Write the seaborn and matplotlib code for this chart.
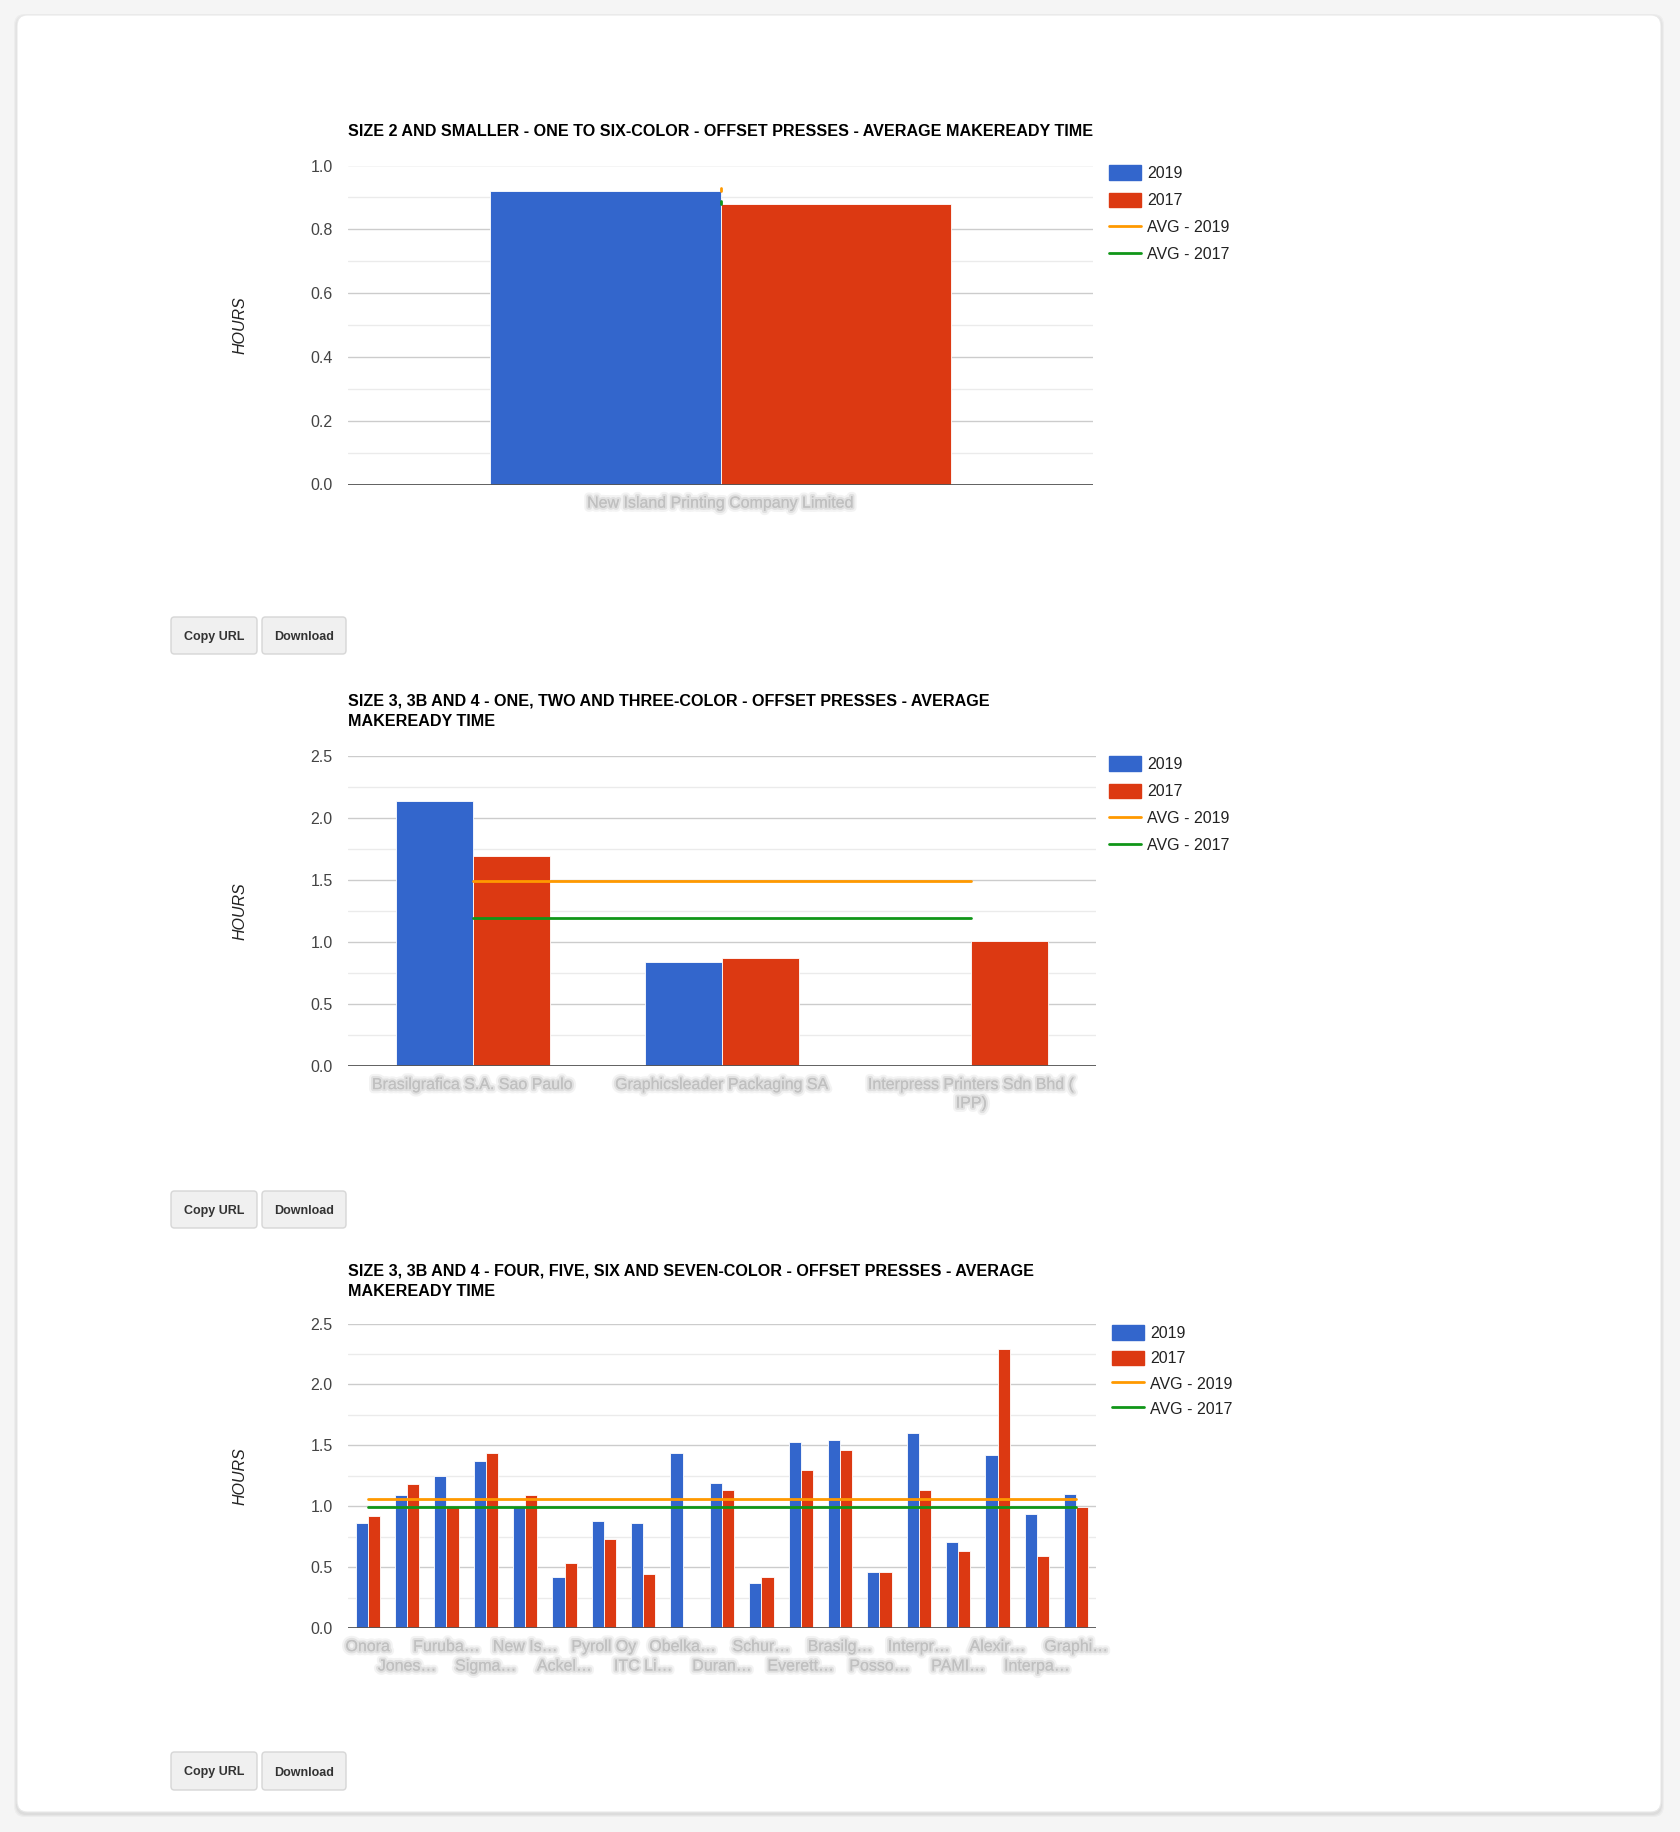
import numpy as np
import pandas as pd
import matplotlib
matplotlib.use("Agg")
import matplotlib.pyplot as plt
import matplotlib.patheffects as pe
from matplotlib.patches import FancyBboxPatch, Patch
from matplotlib.lines import Line2D
from matplotlib.ticker import MultipleLocator, FormatStrFormatter
import seaborn as sns

sns.set_theme(style="white")
plt.rcParams["font.family"] = ["Liberation Sans", "DejaVu Sans"]

# ---- data ----
years = ["2019", "2017"]

c1_names = ["New Island Printing Company Limited"]
c1_2019 = [0.92]
c1_2017 = [0.88]
c1_avg = {"2019": 0.92, "2017": 0.88}

c2_names = ["Brasilgrafica S.A. Sao Paulo", "Graphicsleader Packaging SA",
            "Interpress Printers Sdn Bhd (\nIPP)"]
c2_2019 = [2.14, 0.84, np.nan]
c2_2017 = [1.69, 0.87, 1.01]
c2_avg = {"2019": 1.49, "2017": 1.19}

c3_names = ["Onora", "Jones…", "Furuba…", "Sigma…", "New Is…", "Ackel…",
            "Pyroll Oy", "ITC Li…", "Obelka…", "Duran…", "Schur…", "Everett…",
            "Brasilg…", "Posso…", "Interpr…", "PAMI…", "Alexir…", "Interpa…",
            "Graphi…"]
c3_2019 = [0.86, 1.09, 1.25, 1.37, 1.00, 0.42, 0.88, 0.86, 1.44, 1.19, 0.37,
           1.53, 1.54, 0.46, 1.60, 0.71, 1.42, 0.94, 1.10]
c3_2017 = [0.92, 1.18, 0.99, 1.44, 1.09, 0.53, 0.73, 0.44, np.nan, 1.13, 0.42,
           1.30, 1.46, 0.46, 1.13, 0.63, 2.29, 0.59, 0.99]
c3_avg = {"2019": 1.06, "2017": 0.99}

titles = [
    "SIZE 2 AND SMALLER - ONE TO SIX-COLOR - OFFSET PRESSES - AVERAGE MAKEREADY TIME",
    "SIZE 3, 3B AND 4 - ONE, TWO AND THREE-COLOR - OFFSET PRESSES - AVERAGE\nMAKEREADY TIME",
    "SIZE 3, 3B AND 4 - FOUR, FIVE, SIX AND SEVEN-COLOR - OFFSET PRESSES - AVERAGE\nMAKEREADY TIME",
]

BLUE, RED, ORANGE, GREEN = "#3366CC", "#DC3912", "#FF9900", "#109618"
LABEL_GREY = "#c0c0c0"

W, H = 1680, 1832
fig = plt.figure(figsize=(W / 100, H / 100), dpi=100, facecolor="#f5f5f5")


def rect(l, t, r, b):
    return [l / W, 1 - b / H, (r - l) / W, (b - t) / H]


# card with soft shadow
for i, a in enumerate([0.03, 0.03, 0.04]):
    d = 3 - i
    fig.patches.append(FancyBboxPatch(
        ((17 - d) / W, 1 - (1812 + d + 2) / H), (1644 + 2 * d) / W, (1797 + 2 * d) / H,
        boxstyle="round,pad=0,rounding_size=0.006", transform=fig.transFigure,
        facecolor="black", edgecolor="none", alpha=a, zorder=-3))
fig.patches.append(FancyBboxPatch(
    (17 / W, 1 - 1812 / H), 1644 / W, 1797 / H,
    boxstyle="round,pad=0,rounding_size=0.006", transform=fig.transFigure,
    facecolor="white", edgecolor="#e9e9e9", lw=0.8, zorder=-2))


def button(x0, x1, y0, y1, label):
    fig.patches.append(FancyBboxPatch(
        (x0 / W, 1 - y1 / H), (x1 - x0) / W, (y1 - y0) / H,
        boxstyle="round,pad=0,rounding_size=0.002", transform=fig.transFigure,
        facecolor="#f0f0f0", edgecolor="#d6d6d6", lw=1, zorder=-1))
    fig.text((x0 + x1) / 2 / W, 1 - (y0 + y1) / 2 / H, label, ha="center",
             va="center_baseline", fontsize=9, fontweight="bold", color="#333333")


def blur(t):
    # the company names are blurred in the reference
    t.set_path_effects([pe.withStroke(linewidth=6, foreground="#f3f3f3"),
                        pe.withStroke(linewidth=3, foreground="#e0e0e0"),
                        pe.Normal()])


def draw_chart(box, names, v19, v17, avg, ymax, major, minor, title, title_y,
               legend_x, legend_y, stagger=False, spacing=0.72):
    l, t, r, b = box
    ax = fig.add_axes(rect(l, t, r, b))
    ax.set_facecolor("none")
    df = pd.DataFrame({
        "company": names * 2,
        "year": ["2019"] * len(names) + ["2017"] * len(names),
        "hours": list(v19) + list(v17),
    })
    sns.barplot(data=df, x="company", y="hours", hue="year", order=names,
                hue_order=years, palette={"2019": BLUE, "2017": RED},
                saturation=1, width=0.618, errorbar=None, legend=False,
                edgecolor="white", linewidth=0.6, ax=ax, zorder=3)
    n = len(names)
    if n == 1:
        ax.plot([0, 0], [avg["2019"], avg["2019"] + 0.008], color=ORANGE, lw=2, zorder=4)
        ax.plot([0, 0], [avg["2017"], avg["2017"] + 0.008], color=GREEN, lw=2, zorder=4)
    else:
        ax.plot([0, n - 1], [avg["2019"]] * 2, color=ORANGE, lw=2, zorder=4)
        ax.plot([0, n - 1], [avg["2017"]] * 2, color=GREEN, lw=2, zorder=4)

    ax.set_xlim(-0.5, n - 0.5)
    ax.set_ylim(0, ymax)
    ax.yaxis.set_major_locator(MultipleLocator(major))
    ax.yaxis.set_minor_locator(MultipleLocator(minor))
    ax.yaxis.set_major_formatter(FormatStrFormatter("%.1f"))
    ax.grid(axis="y", which="major", color="#cccccc", lw=1, zorder=0)
    ax.grid(axis="y", which="minor", color="#ebebeb", lw=1, zorder=0)
    ax.set_axisbelow(True)
    ax.axhline(0, color="#555555", lw=1.3, zorder=5)
    for s in ax.spines.values():
        s.set_visible(False)
    ax.tick_params(axis="y", which="both", length=0, pad=11, labelsize=11.5,
                   labelcolor="#444444")
    ax.tick_params(axis="x", length=0, pad=8)
    ax.set_xlabel("")
    ax.set_ylabel("")

    ax.set_xticks(range(n))
    if stagger:
        ax.set_xticklabels([nm if i % 2 == 0 else "" for i, nm in enumerate(names)],
                           fontsize=11.5, color=LABEL_GREY)
        for i, nm in enumerate(names):
            if i % 2:
                tx = ax.annotate(nm, xy=(i, 0), xycoords=("data", "axes fraction"),
                                 xytext=(0, -22), textcoords="offset points",
                                 ha="center", va="top", fontsize=11.5, color=LABEL_GREY)
                blur(tx)
    else:
        ax.set_xticklabels(names, fontsize=11.5, color=LABEL_GREY, linespacing=1.3)
    for tl in ax.get_xticklabels():
        blur(tl)

    fig.text(l / W, 1 - title_y / H, title, ha="left", va="top", fontsize=11.65,
             fontweight="bold", color="#000000", linespacing=1.5)
    fig.text(240 / W, 1 - (t + b) / 2 / H, "HOURS", rotation=90, ha="center",
             va="center", fontsize=11.5, style="italic", color="#222222")

    handles = [Patch(facecolor=BLUE, edgecolor=BLUE),
               Patch(facecolor=RED, edgecolor=RED),
               Line2D([], [], color=ORANGE, lw=2),
               Line2D([], [], color=GREEN, lw=2)]
    ax.legend(handles, ["2019", "2017", "AVG - 2019", "AVG - 2017"],
              loc="upper left", bbox_to_anchor=(legend_x / W, 1 - legend_y / H),
              bbox_transform=fig.transFigure, frameon=False, fontsize=11.5,
              handlelength=2.0, handleheight=1.0, labelspacing=spacing,
              handletextpad=0.4, borderpad=0, borderaxespad=0,
              labelcolor="#222222")
    return ax


draw_chart((348, 165.5, 1093, 484.5), c1_names, c1_2019, c1_2017, c1_avg,
           1.0, 0.2, 0.1, titles[0], 124.5, 1109, 165.5)
button(171, 257, 617, 654, "Copy URL")
button(262, 346, 617, 654, "Download")

draw_chart((348, 756, 1096, 1066), c2_names, c2_2019, c2_2017, c2_avg,
           2.5, 0.5, 0.25, titles[1], 693.5, 1109, 756.5)
button(171, 257, 1191, 1228, "Copy URL")
button(262, 346, 1191, 1228, "Download")

draw_chart((348, 1323.5, 1096, 1628), c3_names, c3_2019, c3_2017, c3_avg,
           2.5, 0.5, 0.25, titles[2], 1263.5, 1112, 1325.5, stagger=True,
           spacing=0.6)
button(171, 257, 1752, 1790, "Copy URL")
button(262, 346, 1752, 1790, "Download")

fig.savefig("out.png", dpi=100, facecolor=fig.get_facecolor())
